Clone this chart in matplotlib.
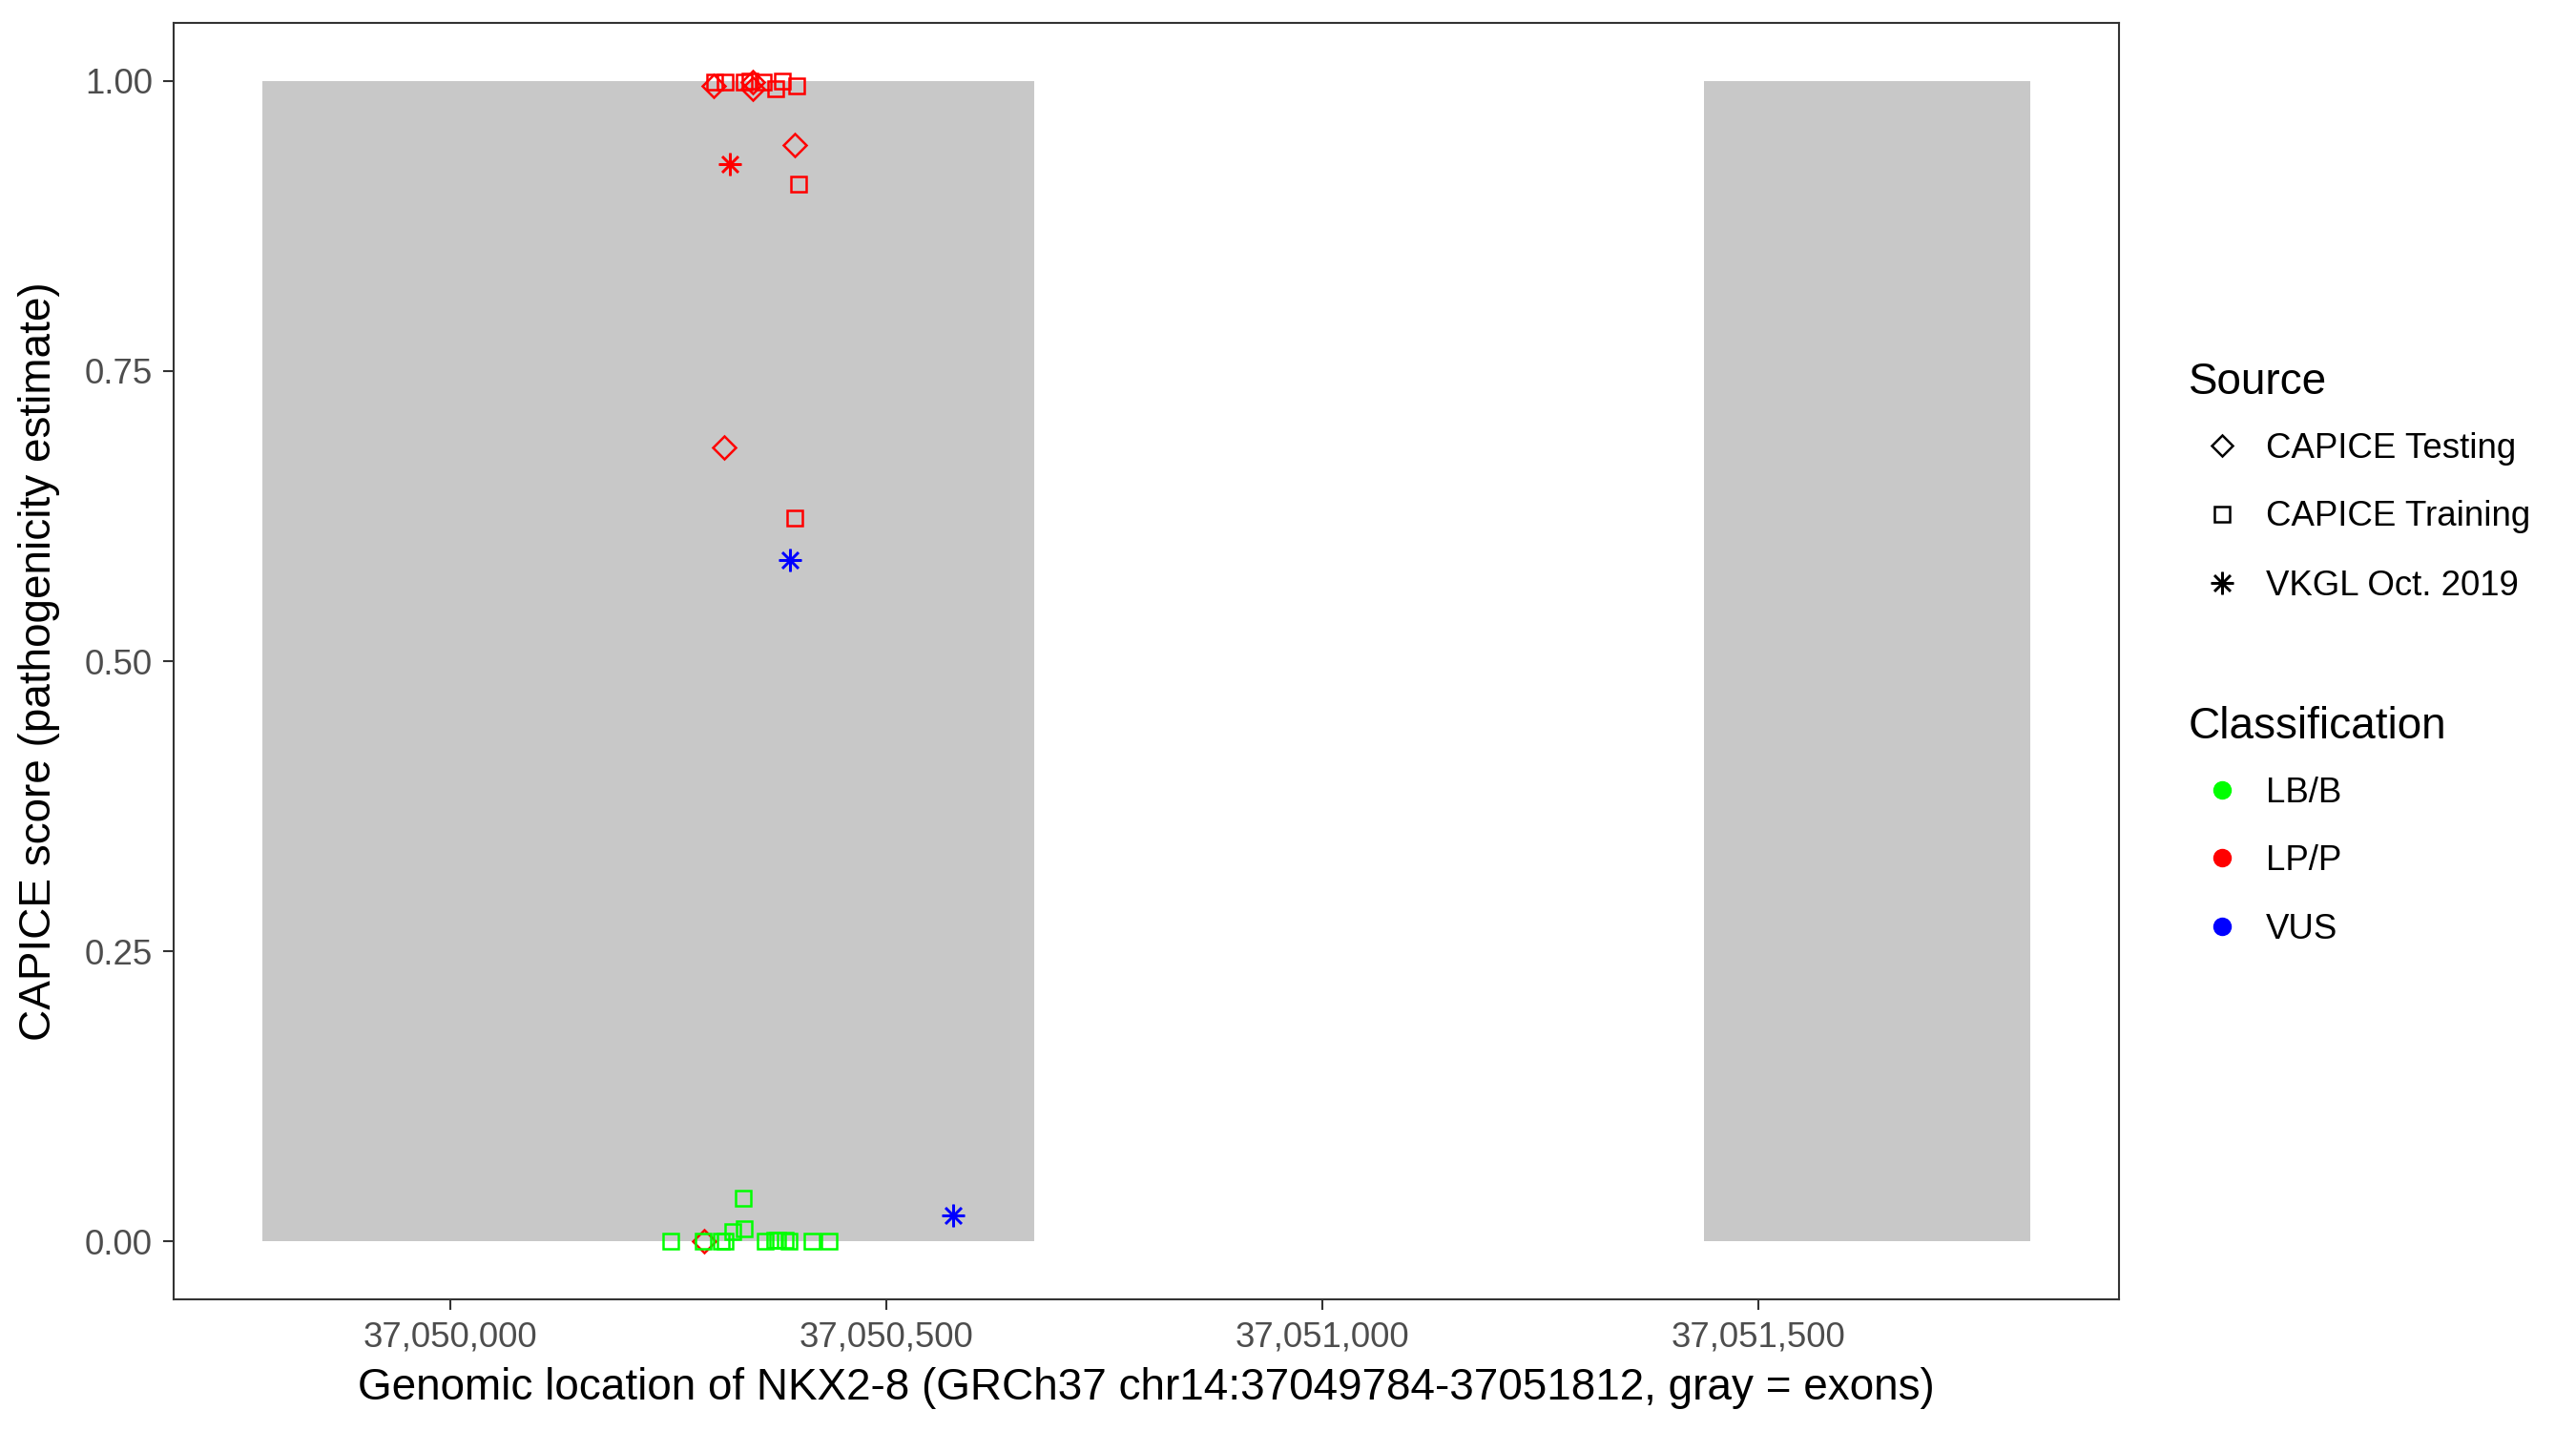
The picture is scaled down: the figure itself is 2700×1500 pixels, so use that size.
from __future__ import annotations

import matplotlib

matplotlib.use("Agg")

import matplotlib.pyplot as plt
import matplotlib.ticker as ticker
from matplotlib.lines import Line2D
from matplotlib.patches import Rectangle

plt.rcParams["font.family"] = ["Liberation Sans", "DejaVu Sans"]

GENE = "NKX2-8"
GENE_START = 37049784
GENE_END = 37051812
OFFSET = 37050000

# exon spans (bp)
EXON_STARTS = [37049784, 37051438]
EXON_ENDS = [37050669, 37051812]

# CAPICE Testing (diamonds), offsets from 37,050,000
TEST_LP_X = [302, 347, 347, 395, 314, 291]
TEST_LP_Y = [0.996, 0.999, 0.993, 0.945, 0.684, 0.0]

# CAPICE Training (squares)
TRAIN_LP_X = [303, 315, 337, 343, 359, 373, 381, 397, 399, 394.5]
TRAIN_LP_Y = [0.999, 0.999, 0.999, 1.0, 0.999, 0.993, 1.0, 0.996, 0.911, 0.623]
TRAIN_LB_X = [253, 289.5, 311, 315, 324, 337, 336, 360.6, 371.5, 375, 384, 388, 415, 434.5]
TRAIN_LB_Y = [0.0, 0.0, 0.0, 0.0, 0.008, 0.011, 0.037, 0.0, 0.001, 0.001, 0.001, 0.0, 0.0, 0.0]

# VKGL Oct. 2019 (asterisks)
VKGL_LP_X = [320]
VKGL_LP_Y = [0.928]
VKGL_VUS_X = [389, 576]
VKGL_VUS_Y = [0.587, 0.022]

Y_TICKS = [0.0, 0.25, 0.5, 0.75, 1.0]
X_TICKS = [37050000, 37050500, 37051000, 37051500]

SOURCES = ["CAPICE Testing", "CAPICE Training", "VKGL Oct. 2019"]
CLASSES = ["LB/B", "LP/P", "VUS"]

COLORS = {"LB/B": "#00FF00", "LP/P": "#FF0000", "VUS": "#0000FF"}
MARKERS = {"CAPICE Testing": "D", "CAPICE Training": "s", "VKGL Oct. 2019": (8, 2, 0)}
SIZES = {"CAPICE Testing": 12, "CAPICE Training": 11, "VKGL Oct. 2019": 17}
KEY_SIZES = {"CAPICE Testing": 11, "CAPICE Training": 12, "VKGL Oct. 2019": 17}

BASE = 33
SMALL = BASE * 0.8


def draw_points(ax, xs, ys, source, cls):
    ax.plot(
        [OFFSET + x for x in xs],
        ys,
        linestyle="none",
        marker=MARKERS[source],
        markersize=SIZES[source],
        markerfacecolor="none",
        markeredgecolor=COLORS[cls],
        color=COLORS[cls],
        markeredgewidth=1.8,
        zorder=3,
    )


def draw_legend(fig):
    W, H = fig.get_size_inches() * fig.dpi

    def fx(px):
        return px / W

    def fy(py):
        return 1 - (py + 3) / H

    fig.text(fx(2294), fy(398), "Source", fontsize=BASE, va="center", ha="left")
    for src, py in zip(SOURCES, [467, 539, 611]):
        fig.add_artist(
            Line2D([fx(2329)], [fy(py - 3)], transform=fig.transFigure, linestyle="none",
                   marker=MARKERS[src], markersize=KEY_SIZES[src],
                   markerfacecolor="none", markeredgecolor="black", color="black",
                   markeredgewidth=1.8)
        )
        fig.text(fx(2375), fy(py), src, fontsize=SMALL, va="center", ha="left")

    fig.text(fx(2294), fy(759), "Classification", fontsize=BASE, va="center", ha="left")
    for cls, py in zip(CLASSES, [828, 899, 971]):
        fig.add_artist(
            Line2D([fx(2329)], [fy(py - 3)], transform=fig.transFigure, linestyle="none",
                   marker="o", markersize=13, markerfacecolor=COLORS[cls],
                   markeredgecolor=COLORS[cls])
        )
        fig.text(fx(2375), fy(py), cls, fontsize=SMALL, va="center", ha="left")


def main() -> None:
    fig = plt.figure(figsize=(27, 15), dpi=100)
    ax = fig.add_axes([182 / 2700, 1 - 1362 / 1500, (2221 - 182) / 2700, (1362 - 24) / 1500])

    for start, end in zip(EXON_STARTS, EXON_ENDS):
        ax.add_patch(Rectangle((start, 0), end - start, 1, facecolor="#C8C8C8",
                               edgecolor="none", zorder=1))

    draw_points(ax, TEST_LP_X, TEST_LP_Y, "CAPICE Testing", "LP/P")
    draw_points(ax, TRAIN_LP_X, TRAIN_LP_Y, "CAPICE Training", "LP/P")
    draw_points(ax, TRAIN_LB_X, TRAIN_LB_Y, "CAPICE Training", "LB/B")
    draw_points(ax, VKGL_LP_X, VKGL_LP_Y, "VKGL Oct. 2019", "LP/P")
    draw_points(ax, VKGL_VUS_X, VKGL_VUS_Y, "VKGL Oct. 2019", "VUS")

    span = GENE_END - GENE_START
    ax.set_xlim(GENE_START - 0.05 * span, GENE_END + 0.05 * span)
    ax.set_ylim(-0.05, 1.05)

    ax.set_xticks(X_TICKS)
    ax.set_yticks(Y_TICKS)
    ax.xaxis.set_major_formatter(ticker.FuncFormatter(lambda v, p: f"{int(v):,}"))
    ax.yaxis.set_major_formatter(ticker.FormatStrFormatter("%.2f"))
    ax.tick_params(axis="both", length=8, width=1.5, color="#333333",
                   labelcolor="#4D4D4D", labelsize=SMALL)
    ax.tick_params(axis="x", pad=8)
    ax.tick_params(axis="y", pad=8)
    for spine in ax.spines.values():
        spine.set_color("#333333")
        spine.set_linewidth(1.5)

    fig.text((182 + 2221) / 2 / 2700, 1 - 1455 / 1500,
             f"Genomic location of {GENE} (GRCh37 chr14:{GENE_START}-{GENE_END}, gray = exons)",
             fontsize=BASE, ha="center", va="center")
    fig.text(41 / 2700, 1 - 693 / 1500, "CAPICE score (pathogenicity estimate)",
             fontsize=BASE, ha="center", va="center", rotation=90)

    draw_legend(fig)

    fig.savefig("out.png", dpi=100, facecolor="white")
    plt.close(fig)


if __name__ == "__main__":
    main()
